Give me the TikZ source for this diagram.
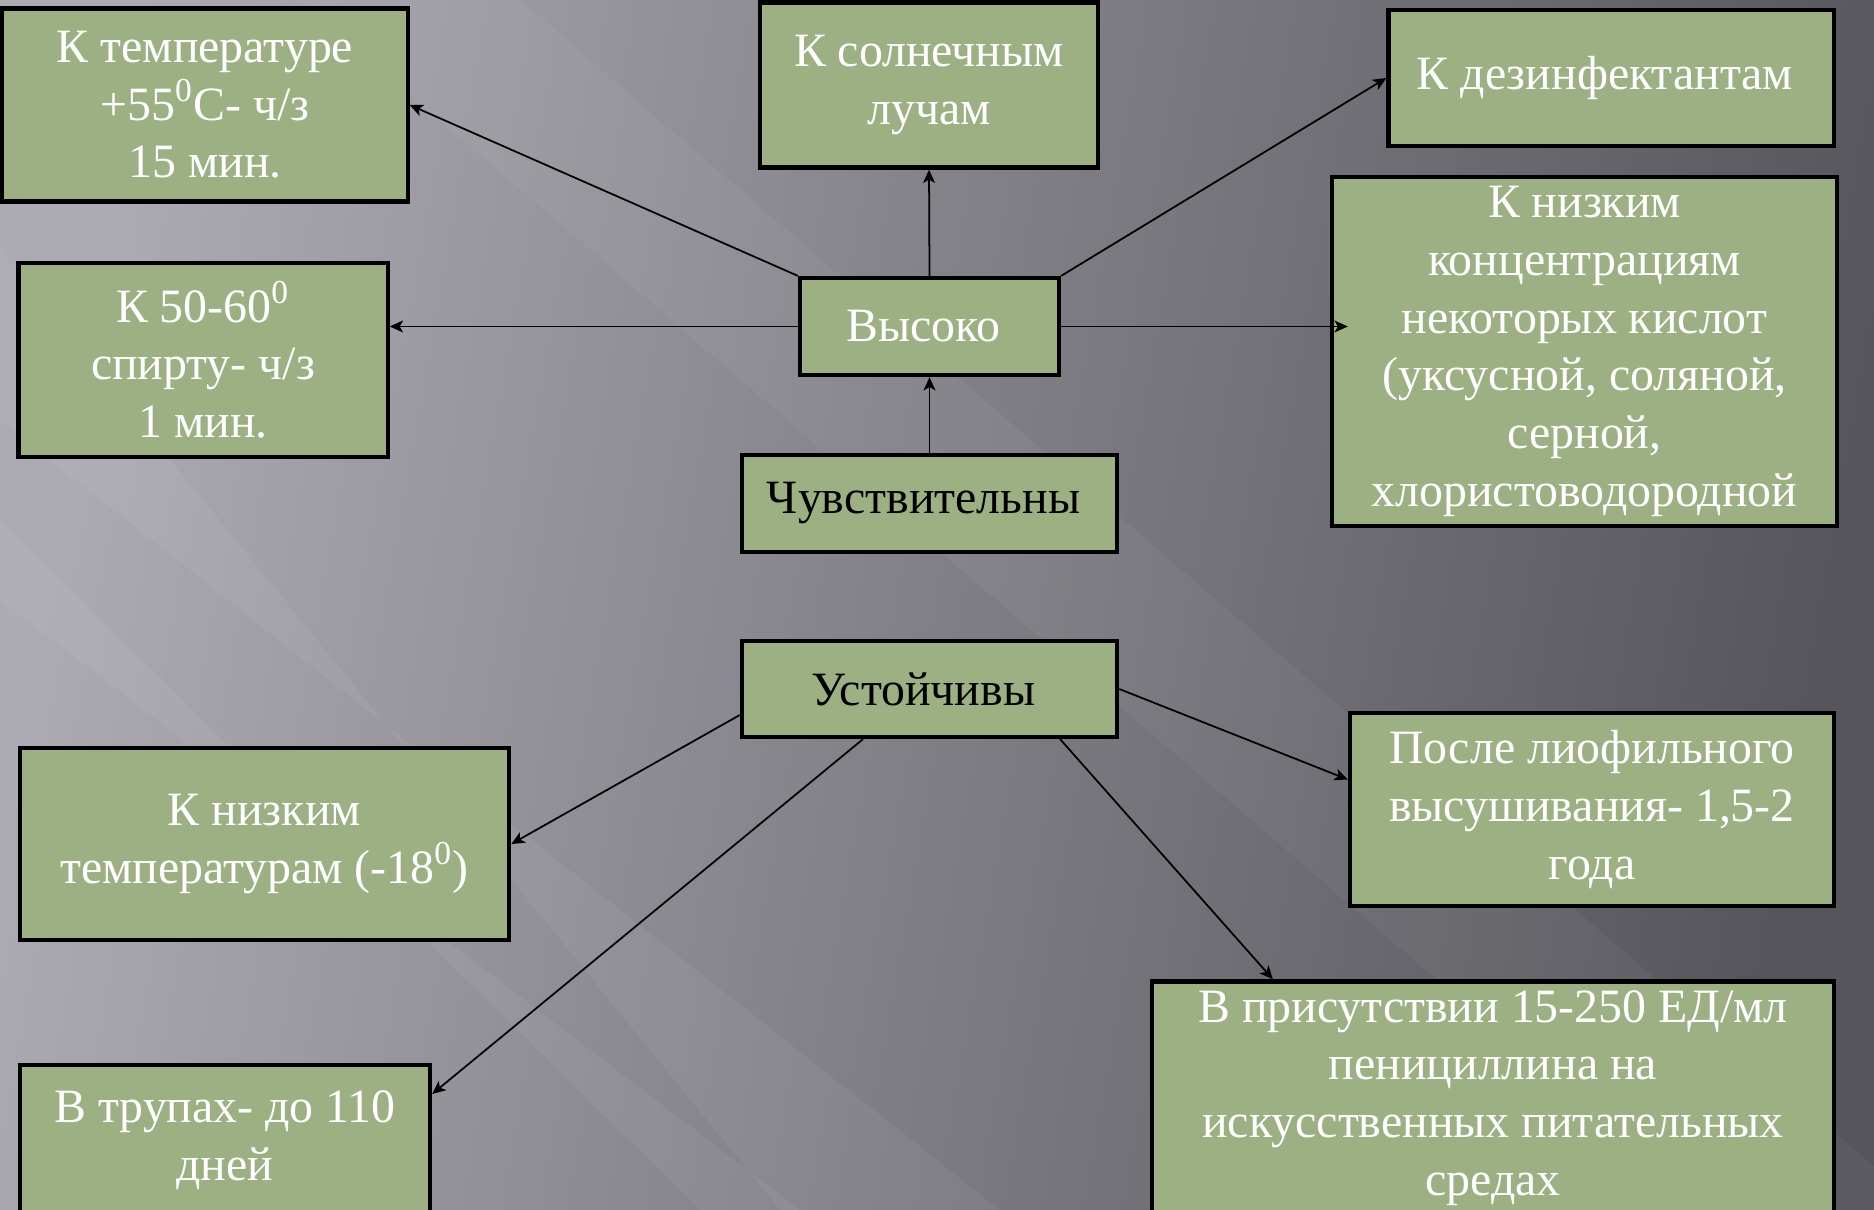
\documentclass[tikz,border=0pt]{standalone}
\usepackage{fontspec}
\setmainfont{Liberation Serif}
\usetikzlibrary{arrows.meta, positioning, calc}
\definecolor{boxgreen}{RGB}{157, 176, 132}
\definecolor{bglight}{RGB}{172, 170, 178}
\definecolor{bgmid}{RGB}{118, 117, 123}
\definecolor{bgdark}{RGB}{86, 85, 91}

\begin{document}
\begin{tikzpicture}[x=0.01cm, y=-0.01cm,
  box/.style={draw=black, line width=1.2pt, fill=boxgreen, align=center, inner sep=0pt,
    font=\fontsize{13.6}{16.4}\selectfont, text=white},
  darktext/.style={text=black},
  link/.style={-{Stealth[length=3.8pt, width=3.4pt, inset=1pt]}, line width=0.5pt, black}]
  \useasboundingbox (0,0) rectangle (1874,1210);

  % Background with soft streaks
  \shade[left color=bglight, middle color=bgmid, right color=bgdark, shading angle=80] (0,0) rectangle (1874,1210);
  \fill[white, opacity=0.05] (0,250) -- (0,420) -- (1000,1210) -- (780,1210) -- cycle;
  \fill[white, opacity=0.05] (0,520) -- (0,600) -- (800,1210) -- (700,1210) -- cycle;
  \fill[white, opacity=0.04] (300,0) -- (520,0) -- (1924,1210) -- (1704,1210) -- cycle;

  % Sensitive: top group
  \node[box, minimum width=4.05cm, minimum height=1.93cm] (temp) at (205,105) {
    К температуре\\+55\textsuperscript{0}C- ч/з\\15 мин.
  };
  \node[box, minimum width=3.38cm, minimum height=1.65cm] (sun) at (929,85) {
    К солнечным\\лучам
  };
  \node[box, minimum width=4.45cm, minimum height=1.36cm] (disinf) at (1611,78) {
    К дезинфектантам
  };
  \node[box, minimum width=3.69cm, minimum height=1.94cm] (spirit) at (203,360) {
    К 50-60\textsuperscript{0}\\спирту- ч/з\\1 мин.
  };
  \node[box, minimum width=2.59cm, minimum height=0.97cm] (high) at (929.5,326.5) {
    Высоко
  };
  \node[box, minimum width=5.05cm, minimum height=3.49cm] (acids) at (1584.5,351.5) {
    К низким\\концентрациям\\некоторых кислот\\(уксусной, соляной,\\серной,\\хлористоводородной
  };
  \node[box, darktext, minimum width=3.75cm, minimum height=0.97cm] (sens) at (929.5,503.5) {
    Чувствительны
  };

  % Resistant: bottom group
  \node[box, darktext, minimum width=3.75cm, minimum height=0.96cm] (resist) at (929.5,689) {
    Устойчивы
  };
  \node[box, minimum width=4.89cm, minimum height=1.92cm] (cold) at (264.5,844) {
    К низким\\температурам (-18\textsuperscript{0})
  };
  \node[box, minimum width=4.84cm, minimum height=1.93cm] (dried) at (1592,809.5) {
    После лиофильного\\высушивания- 1,5-2\\года
  };
  \node[box, minimum width=4.10cm, minimum height=1.50cm] (corpse) at (225,1140) {
    В трупах- до 110\\дней
  };
  \node[box, minimum width=6.82cm, minimum height=2.33cm] (penic) at (1493,1098) {
    В присутствии 15-250 ЕД/мл\\пенициллина на\\искусственных питательных\\средах
  };

  % Arrows
  \draw[link] (high.north west) -- (temp.east);
  \draw[link] (high.north) -- (sun.south);
  \draw[link] (high.north east) -- (disinf.west);
  \draw[link] (high.west) -- (high.west -| spirit.east);
  \draw[link] (high.east) -- ([xshift=0.18cm]high.east -| acids.west);
  \draw[link] (sens.north) -- (high.south);

  \draw[link] ([yshift=-0.26cm]resist.west) -- (cold.east);
  \draw[link] ([xshift=-0.665cm]resist.south) -- ([yshift=0.46cm]corpse.east);
  \draw[link] (resist.east) -- ([yshift=0.30cm]dried.west);
  \draw[link] ([xshift=1.305cm]resist.south) -- ([xshift=-2.2cm]penic.north);
\end{tikzpicture}
\end{document}
